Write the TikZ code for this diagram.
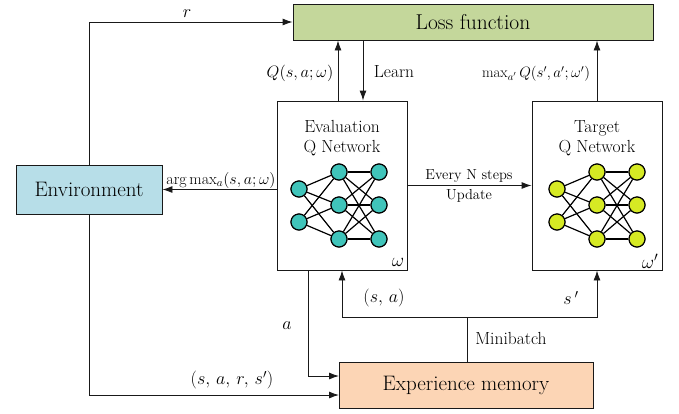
\RequirePackage{fix-cm}
\documentclass[tikz,border=0pt]{standalone}
\usepackage{fontspec}
\usetikzlibrary{arrows.meta,calc}
\definecolor{lossfill}{RGB}{196,215,155}
\definecolor{envfill}{RGB}{183,222,232}
\definecolor{memfill}{RGB}{252,213,181}
\definecolor{evalnode}{RGB}{64,196,186}
\definecolor{targnode}{RGB}{214,234,36}
\definecolor{edge}{RGB}{25,25,25}
\tikzset{
  blk/.style={draw=edge, line width=0.9pt, inner sep=0pt, anchor=center},
  netbox/.style={draw=edge, line width=0.9pt, fill=white, minimum width=130pt, minimum height=169pt, inner sep=0pt},
  arr/.style={draw=edge, line width=0.9pt, -{Latex[length=10pt,width=7pt]}},
  wire/.style={draw=edge, line width=0.9pt},
  neuron/.style={circle, draw=black, line width=1.1pt, minimum size=16pt, inner sep=0pt},
  synapse/.style={draw=black, line width=1.2pt},
  lbl/.style={inner sep=1pt, font=\fontsize{16}{19}\selectfont},
  mlbl/.style={inner sep=1pt, font=\fontsize{18}{21}\selectfont},
}
% three-layer network: prefix, x of input, hidden and output columns, colour
\newcommand{\drawqnet}[5]{%
  \node[neuron, fill=#5] (#1i1) at (#2,189) {};
  \node[neuron, fill=#5] (#1i2) at (#2,222) {};
  \foreach \k/\yy in {1/172,2/205,3/239} {
    \node[neuron, fill=#5] (#1h\k) at (#3,\yy) {};
    \node[neuron, fill=#5] (#1o\k) at (#4,\yy) {};
  }
  \foreach \i in {1,2} \foreach \k in {1,2,3}
    \draw[synapse] (#1i\i) -- (#1h\k);
  \foreach \j in {1,2,3} \foreach \k in {1,2,3}
    \draw[synapse] (#1h\j) -- (#1o\k);
  \foreach \i in {1,2} \node[neuron, fill=#5] at (#1i\i) {};
  \foreach \k in {1,2,3} {
    \node[neuron, fill=#5] at (#1h\k) {};
    \node[neuron, fill=#5] at (#1o\k) {};
  }
}
\begin{document}
\begin{tikzpicture}[x=1pt, y=-1pt]
\useasboundingbox (0,0) rectangle (679,413);

% blocks
\node[blk, fill=lossfill, minimum width=360pt, minimum height=36pt,
      font=\fontsize{21.5}{24}\selectfont] (loss) at (473,22) {Loss function};
\node[blk, fill=envfill, minimum width=146pt, minimum height=49pt,
      font=\fontsize{21}{24}\selectfont] (env) at (89,189.5) {Environment};
\node[blk, fill=memfill, minimum width=254pt, minimum height=46pt,
      font=\fontsize{21}{24}\selectfont] (mem) at (466,385) {Experience memory};
\node[netbox] (eval) at (342,185.5) {};
\node[netbox] (targ) at (597,185.5) {};

% box titles and weights
\node[align=center, font=\fontsize{17.5}{20}\selectfont] (evalt) at (342,138)
  {Evaluation\\Q Network};
\node[align=center, font=\fontsize{17.5}{20}\selectfont] (targt) at (597,138)
  {Target\\Q Network};
\node[font=\fontsize{19}{21}\selectfont, inner sep=0pt] (w1) at (398,262) {$\omega$};
\node[font=\fontsize{19}{21}\selectfont, inner sep=0pt] (w2) at (650,261) {$\omega^{\prime}$};

% networks
\drawqnet{e}{299}{339}{379}{evalnode}
\drawqnet{t}{557}{597}{637}{targnode}

% helper points
\coordinate (qx) at (338,0);
\coordinate (lx) at (363,0);
\coordinate (ax) at (308,0);
\coordinate (m1) at (339,376);
\coordinate (m2) at (339,395);
\coordinate (mb) at (467,317);

% connectors
\draw[arr] (env.north) |- (loss.west);
\draw[arr] (eval.north -| qx) -- (loss.south -| qx);
\draw[arr] (loss.south -| lx) -- (eval.north -| lx);
\draw[arr] (targ.north) -- (loss.south -| targ.north);
\draw[arr] (eval.west |- env.east) -- (env.east);
\draw[arr] (eval.east) -- (targ.west);
\draw[arr] (eval.south -| ax) |- (m1);
\draw[arr] (env.south) |- (m2);
\draw[wire] (mem.north -| mb) -- (mb);
\draw[arr] (mb) -| (eval.south);
\draw[arr] (mb) -| (targ.south);

% labels
\node[mlbl] (lr) at (187,14) {$r$};
\node[lbl, font=\fontsize{16.5}{19}\selectfont] (lq) at (300,73) {$Q(s,a;\omega)$};
\node[lbl, font=\fontsize{17.5}{19}\selectfont] (llearn) at (394,72) {Learn};
\node[lbl, font=\fontsize{15}{17}\selectfont] (lmax) at (536,74)
  {$\mathrm{max}_{a'}\,Q(s',a';\omega')$};
\node[lbl, font=\fontsize{16}{19}\selectfont] (larg) at (221,180)
  {$\arg\mathrm{max}_{a}(s,a;\omega)$};
\node[lbl, font=\fontsize{14.5}{17}\selectfont] (lev) at (469,176) {Every N steps};
\node[lbl, font=\fontsize{14.5}{17}\selectfont] (lup) at (469,196) {Update};
\node[mlbl] (lsa) at (384,298) {$(s,\,a)$};
\node[mlbl] (lsp) at (571,298) {$s\,'$};
\node[mlbl] (la) at (287,326) {$a$};
\node[lbl, font=\fontsize{17.5}{20}\selectfont] (lmini) at (511,338) {Minibatch};
\node[mlbl] (lsars) at (232,380) {$(s,\,a,\,r,\,s')$};
\end{tikzpicture}
\end{document}
